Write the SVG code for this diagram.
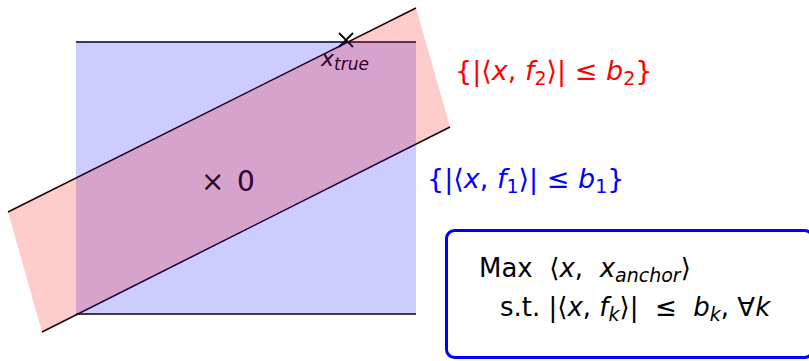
<svg xmlns="http://www.w3.org/2000/svg" width="809" height="361" viewBox="0 0 809 361">
<style>
.t{font-family:"DejaVu Sans","Liberation Sans",sans-serif;}
.i{font-style:italic;}
.pre{white-space:pre;}
.edge{stroke:#000;stroke-width:1.5;fill:none;}
</style>
<rect width="809" height="361" fill="#fff"/>
<g id="labels-under">
<text class="t" x="201" y="191" font-size="28" fill="#000">×<tspan x="237">0</tspan></text>
<g id="xtrue">
<path d="M339,33 L353,47 M353,33 L339,47" stroke="#000" stroke-width="1.8"/>
<text class="t i" x="321" y="66" font-size="22" fill="#000">x<tspan font-size="17" dy="4">true</tspan></text>
</g>
</g>
<g id="edges">
<line class="edge" x1="76" y1="42" x2="416" y2="42"/>
<line class="edge" x1="76" y1="314" x2="416" y2="314"/>
<line class="edge" x1="8" y1="212" x2="416" y2="8"/>
<line class="edge" x1="42" y1="332" x2="450" y2="127"/>
</g>
<g id="set1">
<rect x="76" y="42" width="340" height="272" fill="#0000ff" fill-opacity="0.2"/>
</g>
<g id="set2">
<polygon points="8,212 416,8 450,127 42,332" fill="#ff0000" fill-opacity="0.2"/>
</g>
<g id="label2">
<text class="t" x="455" y="80" font-size="27" fill="#ff0000">{|⟨<tspan class="i">x</tspan>, <tspan class="i">f</tspan><tspan font-size="19" dy="5">2</tspan><tspan dy="-5">⟩| ≤ </tspan><tspan class="i">b</tspan><tspan font-size="19" dy="5">2</tspan><tspan dy="-5">}</tspan></text>
</g>
<g id="label1">
<text class="t" x="427" y="188" font-size="27" fill="#0000ff">{|⟨<tspan class="i">x</tspan>, <tspan class="i">f</tspan><tspan font-size="19" dy="5">1</tspan><tspan dy="-5">⟩| ≤ </tspan><tspan class="i">b</tspan><tspan font-size="19" dy="5">1</tspan><tspan dy="-5">}</tspan></text>
</g>
<g id="box">
<rect x="446.5" y="230.5" width="366" height="127" rx="8" fill="#fff" stroke="#0000ff" stroke-width="3"/>
<text class="t pre" x="479" y="277" font-size="26" fill="#000">Max  ⟨<tspan class="i">x</tspan>,  <tspan class="i">x</tspan><tspan class="i" font-size="19" dy="5">anchor</tspan><tspan dy="-5">⟩</tspan></text>
<text class="t pre" x="500" y="316" font-size="26" fill="#000">s.t. |⟨<tspan class="i">x</tspan>, <tspan class="i">f</tspan><tspan class="i" font-size="19" dy="5">k</tspan><tspan dy="-5">⟩|  ≤  </tspan><tspan class="i">b</tspan><tspan class="i" font-size="19" dy="5">k</tspan><tspan dy="-5">, ∀</tspan><tspan class="i">k</tspan></text>
</g>
</svg>
